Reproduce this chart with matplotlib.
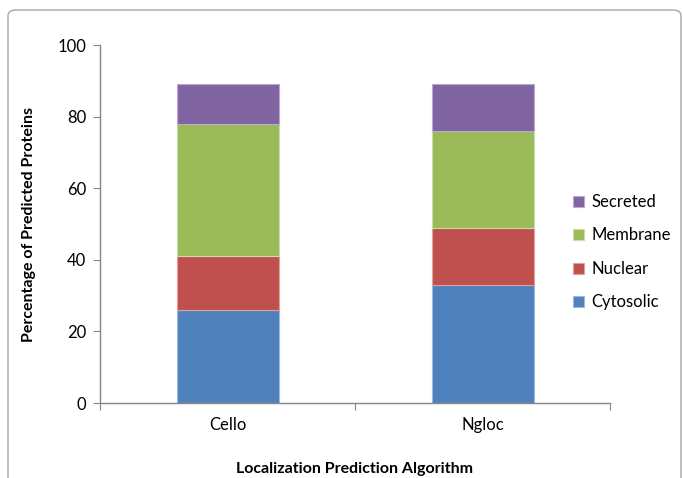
import matplotlib

matplotlib.use("Agg")
import matplotlib.pyplot as plt
import numpy as np
from matplotlib.patches import FancyBboxPatch

algorithms = ["Cello", "Ngloc"]
cytosolic = [26, 33]
nuclear = [15, 16]
membrane = [37, 27]
secreted = [11, 13]

series = [
    ("Cytosolic", cytosolic, "#4F81BD", "#9DB9DE"),
    ("Nuclear", nuclear, "#C0504D", "#E0A09E"),
    ("Membrane", membrane, "#9BBB59", "#CBDDA8"),
    ("Secreted", secreted, "#8064A2", "#BBA9D0"),
]

plt.rcParams["font.family"] = ["Lato", "DejaVu Sans"]

W, H = 683, 478
fig = plt.figure(figsize=(W / 100, H / 100), dpi=100)

# outer chart frame with rounded corners
frame = FancyBboxPatch((8 / W, -0.05), (673) / W, 1.05 - 10 / H,
                       boxstyle="round,pad=0,rounding_size=0.012",
                       transform=fig.transFigure, facecolor="none",
                       edgecolor="#A6A6A6", linewidth=1.0)
fig.patches.append(frame)

ax = fig.add_axes([100 / W, 1 - 403 / H, 510 / W, 358 / H])

x = np.arange(len(algorithms))
bottom = np.zeros(len(algorithms))
handles = []
for name, vals, color, edge in series:
    b = ax.bar(x, vals, width=0.4, bottom=bottom, color=color,
               edgecolor=edge, linewidth=0.8, label=name)
    handles.append(b)
    bottom += np.array(vals)

ax.set_xlim(-0.5, 1.5)
ax.set_ylim(0, 100)
ax.set_yticks(range(0, 101, 20))
ax.set_xticks([-0.5, 0.5, 1.5])
ax.set_xticklabels([])
ax.set_xticks(x, minor=True)
ax.set_xticklabels(algorithms, minor=True)
ax.tick_params(axis="x", which="minor", length=0, pad=10, labelsize=12)
ax.tick_params(axis="x", which="major", length=5, color="#868686", direction="out")
ax.tick_params(axis="y", length=5, color="#868686", direction="out", pad=5, labelsize=12)

for side in ["top", "right"]:
    ax.spines[side].set_visible(False)
for side in ["left", "bottom"]:
    ax.spines[side].set_color("#868686")
    ax.spines[side].set_linewidth(1.0)

ax.set_xlabel("Localization Prediction Algorithm", fontsize=11.5, fontweight="bold", labelpad=21)
ax.set_ylabel("Percentage of Predicted Proteins", fontsize=11.5, fontweight="bold", labelpad=15)

leg = fig.legend(handles[::-1], [s[0] for s in series][::-1], loc="upper left",
                 bbox_to_anchor=(573 / W, 1 - 194 / H), frameon=False, fontsize=12,
                 handlelength=0.65, handleheight=0.65, labelspacing=1.05,
                 handletextpad=0.45, borderaxespad=0, borderpad=0)

fig.savefig("out.png", dpi=100)
